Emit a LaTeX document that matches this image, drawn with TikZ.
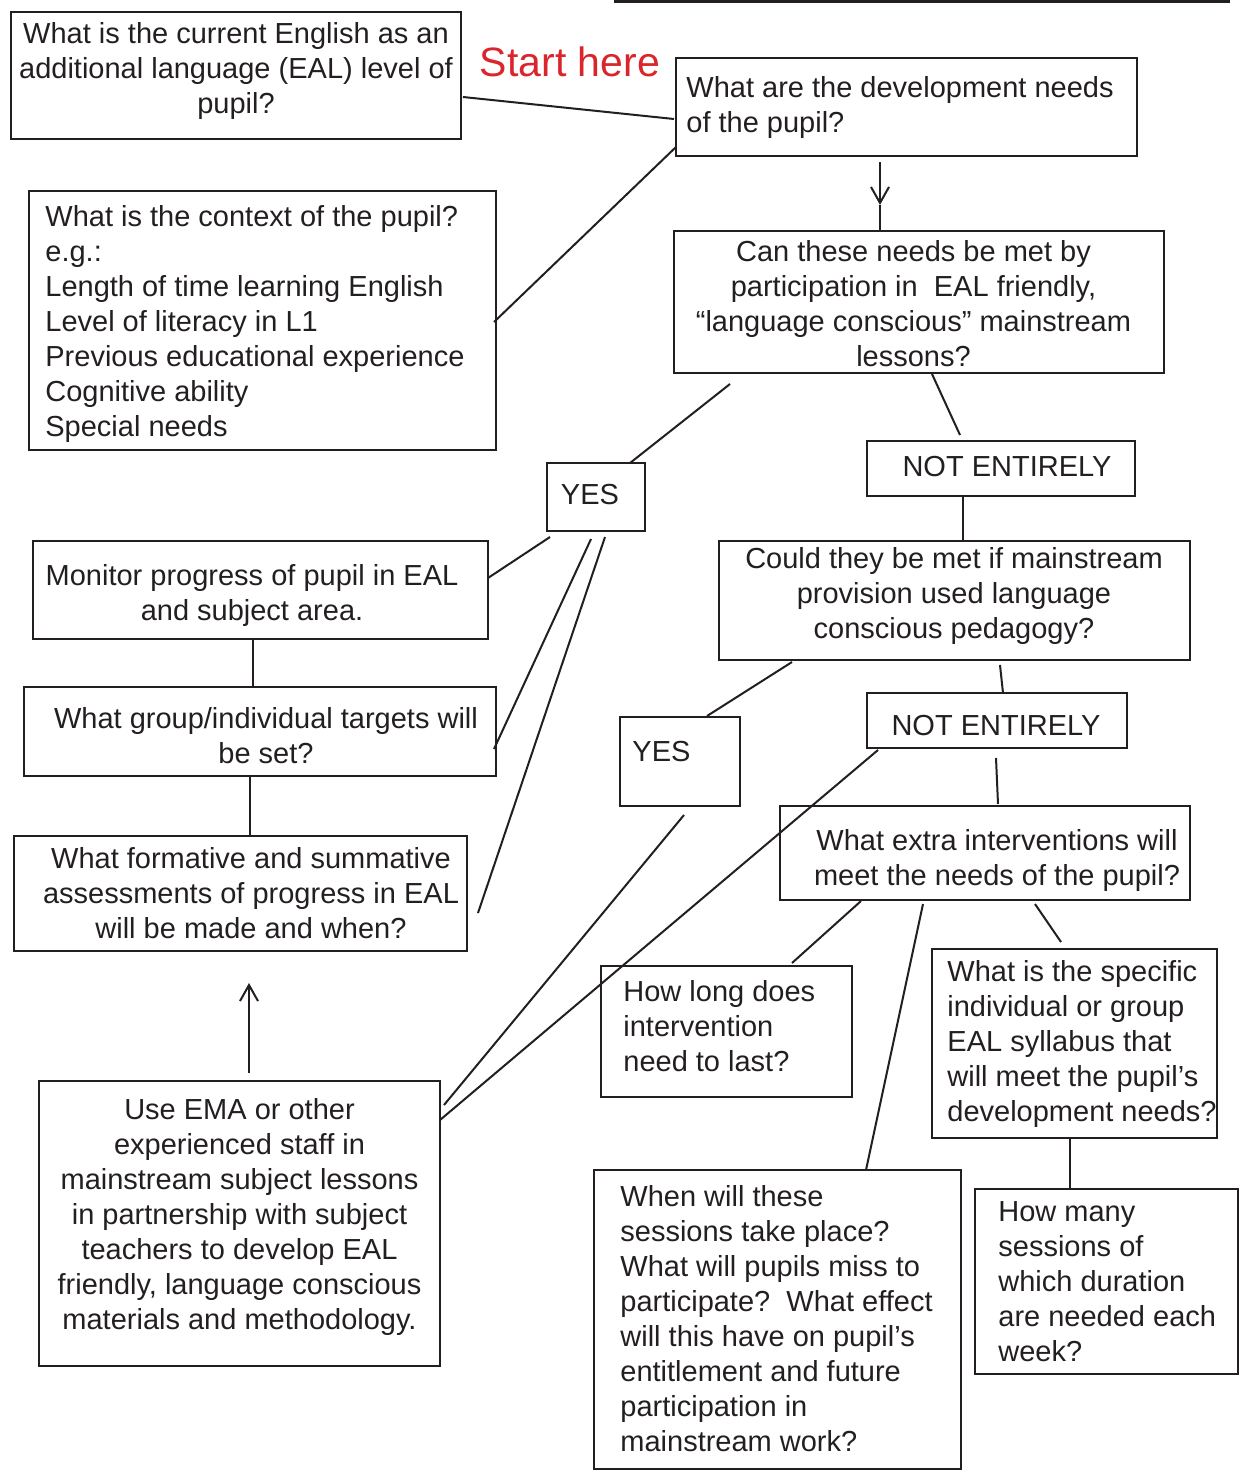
\documentclass[tikz,border=0pt]{standalone}
\usepackage{fontspec}
\setmainfont{Liberation Sans}
\usetikzlibrary{arrows.meta,calc,fit}
\definecolor{startred}{RGB}{218,37,44}
\definecolor{ink}{RGB}{35,31,32}
\begin{document}
\begin{tikzpicture}[x=0.5pt,y=-0.5pt,
  box/.style={draw=ink, line width=1.1pt, inner sep=0pt, outer sep=0pt, rectangle},
  txt/.style={inner sep=0pt, text=ink, font=\fontsize{14.5}{17.5}\selectfont},
  conn/.style={draw=ink, line width=1pt},
  arr/.style={conn, -{Straight Barb[length=8pt, width=9pt, line width=1pt]}}]
\useasboundingbox (0,0) rectangle (1240,1472);

% top rule
\coordinate (tl1) at (614,1.5);
\coordinate (tl2) at (1230,1.5);
\draw[ink, line width=1.5pt] (tl1) -- (tl2);

% boxes
\node[box, fit={(11,12) (461,139)}] (A) {};
\node[box, fit={(676,58) (1137,156)}] (B) {};
\node[box, fit={(29,191) (496,450)}] (C) {};
\node[box, fit={(674,231) (1164,373)}] (D) {};
\node[box, fit={(547,463) (645,531)}] (Y1) {};
\node[box, fit={(867,441) (1135,496)}] (N1) {};
\node[box, fit={(719,541) (1190,660)}] (E) {};
\node[box, fit={(33,541) (488,639)}] (F) {};
\node[box, fit={(24,687) (496,776)}] (G) {};
\node[box, fit={(14,836) (467,951)}] (H) {};
\node[box, fit={(39,1081) (440,1366)}] (I) {};
\node[box, fit={(620,717) (740,806)}] (Y2) {};
\node[box, fit={(867,693) (1127,748)}] (N2) {};
\node[box, fit={(780,806) (1190,900)}] (J) {};
\node[box, fit={(601,966) (852,1097)}] (K) {};
\node[box, fit={(932,949) (1217,1138)}] (M) {};
\node[box, fit={(975,1189) (1238,1374)}] (N) {};
\node[box, fit={(594,1170) (961,1469)}] (L) {};

% texts
\node[txt, align=center] (At) at (236,71) {What is the current English as an\\additional language (EAL) level of\\pupil?};
\node[inner sep=0pt, text=startred, font=\fontsize{20.5}{24}\selectfont] (start) at (570,62) {Start here};
\node[txt, align=left, anchor=west] (Bt) at (686,107.5) {What are the development needs\\of the pupil?};
\node[txt, align=left, anchor=west] (Ct) at (45,324) {What is the context of the pupil?\\e.g.:\\Length of time learning English\\Level of literacy in L1\\Previous educational experience\\Cognitive ability\\Special needs};
\node[txt, align=center] (Dt) at (913.5,303.5) {Can these needs be met by\\participation in\ \ EAL friendly,\\“language conscious” mainstream\\lessons?};
\node[txt] (Y1t) at (590,495) {YES};
\node[txt] (N1t) at (1007,467) {NOT ENTIRELY};
\node[txt, align=center] (Et) at (954,596) {Could they be met if mainstream\\provision used language\\conscious pedagogy?};
\node[txt, align=center] (Ft) at (252,595.5) {Monitor progress of pupil in EAL\\and subject area.};
\node[txt, align=center] (Gt) at (266,735.5) {What group/individual targets will\\be set?};
\node[txt, align=center] (Ht) at (251,893) {What formative and summative\\assessments of progress in EAL\\will be made and when?};
\node[txt, align=center] (It) at (239.5,1217) {Use EMA or other\\experienced staff in\\mainstream subject lessons\\in partnership with subject\\teachers to develop EAL\\friendly, language conscious\\materials and methodology.};
\node[txt, anchor=west] (Y2t) at (632,752) {YES};
\node[txt] (N2t) at (996,726) {NOT ENTIRELY};
\node[txt, align=center] (Jt) at (997,860) {What extra interventions will\\meet the needs of the pupil?};
\node[txt, align=left, anchor=west] (Kt) at (623,1026) {How long does\\intervention\\need to last?};
\node[txt, align=left, anchor=west] (Mt) at (947,1044) {What is the specific\\individual or group\\EAL syllabus that\\will meet the pupil’s\\development needs?};
\node[txt, align=left, anchor=west] (Nt) at (998,1282) {How many\\sessions of\\which duration\\are needed each\\week?};
\node[txt, align=left, anchor=west] (Lt) at (620,1318.5) {When will these\\sessions take place?\\What will pupils miss to\\participate?\ \ What effect\\will this have on pupil’s\\entitlement and future\\participation in\\mainstream work?};

% connectors
\draw[conn] ($(A.north east)+(2,85)$) -- ($(B.north west)+(-2,61)$);
\draw[conn] ($(B.north west)+(0,89)$) -- ($(C.north east)+(-2,131)$);
\coordinate (bd) at ($(B.south west)+(204,49)$);
\draw[arr] ($(B.south west)+(204,6)$) -- (bd);
\draw[conn] (bd) -- ($(D.north west)+(206,0)$);
\draw[conn] ($(D.south west)+(56,11)$) -- ($(Y1.north west)+(83,0)$);
\draw[conn] ($(D.south west)+(258,1)$) -- ($(N1.north west)+(93,-6)$);
\draw[conn] ($(N1.south west)+(96,0)$) -- ($(E.north west)+(244,0)$);
\draw[conn] ($(Y1.south west)+(3,6)$) -- ($(F.north east)+(0,37)$);
\draw[conn] ($(Y1.south west)+(44,8)$) -- ($(G.north east)+(-2,62)$);
\draw[conn] ($(Y1.south west)+(58,6)$) -- ($(H.north east)+(11,77)$);
\draw[conn] ($(F.south west)+(220,0)$) -- ($(G.north west)+(229,0)$);
\draw[conn] ($(G.south west)+(226,0)$) -- ($(H.north west)+(236,0)$);
\draw[arr] ($(I.north west)+(210,-8)$) -- ($(H.south west)+(235,32)$);
\draw[conn] ($(E.south west)+(73,2)$) -- ($(Y2.north west)+(87,-1)$);
\draw[conn] ($(E.south west)+(281,5)$) -- ($(N2.north west)+(136,0)$);
\draw[conn] ($(N2.south west)+(129,10)$) -- ($(J.north west)+(218,-2)$);
\draw[conn] ($(N2.south west)+(11,2)$) -- ($(I.north east)+(0,39)$);
\draw[conn] ($(Y2.south west)+(64,9)$) -- ($(I.north east)+(4,24)$);
\draw[conn] ($(J.south west)+(81,1)$) -- ($(K.north west)+(191,-3)$);
\draw[conn] ($(J.south west)+(143,4)$) -- ($(L.north west)+(272,0)$);
\draw[conn] ($(J.south west)+(255,4)$) -- ($(M.north west)+(129,-7)$);
\draw[conn] ($(M.south west)+(138,0)$) -- ($(N.north west)+(95,-1)$);
\end{tikzpicture}
\end{document}
